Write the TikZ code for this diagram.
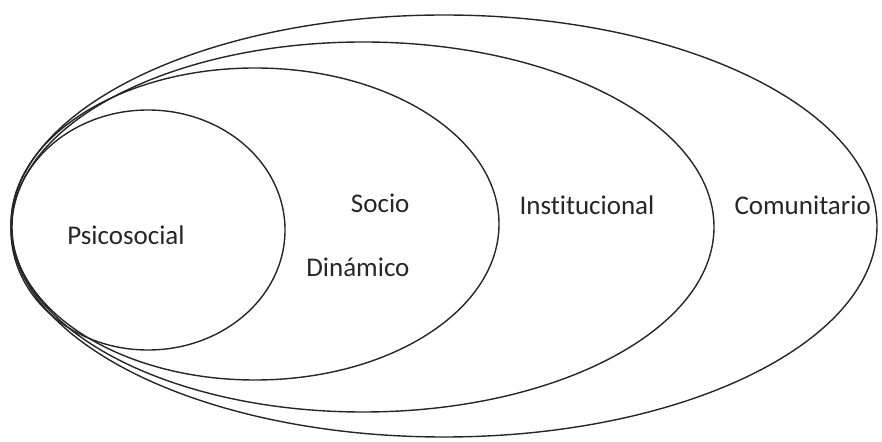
\documentclass[tikz,border=0pt]{standalone}
\usepackage{fontspec}
\setmainfont{Carlito}[Ligatures={NoCommon,NoRequired,NoContextual}]
\usepackage{tikz}

\begin{document}
\begin{tikzpicture}[x=1pt, y=1pt]
		%%%%% START %%%%%
		
		\useasboundingbox (0, 0) rectangle (882, 441);
		
		\draw[line width=1.4pt, color=black!85] (148, 211) ellipse [x radius=137, y radius=120];
		\draw[line width=1.4pt, color=black!85] (255, 217) ellipse [x radius=244, y radius=156];
		\draw[line width=1.4pt, color=black!85] (363, 214) ellipse [x radius=351, y radius=185];
		\draw[line width=1.4pt, color=black!85] (444, 215) ellipse [x radius=433, y radius=211];
		
		\node[anchor=base, font=\fontsize{27}{30}\selectfont, color=black!85] (psico) at (126, 196) {Psicosocial};
		\node[anchor=base east, font=\fontsize{27}{30}\selectfont, color=black!85] (socio) at (413, 228) {Socio};
		\node[anchor=base east, font=\fontsize{27}{30}\selectfont, color=black!85] (dinam) at (413, 164) {Dinámico};
		\node[anchor=base west, font=\fontsize{27}{30}\selectfont, color=black!85] (inst) at (516, 226) {Institucional};
		\node[anchor=base west, font=\fontsize{27}{30}\selectfont, color=black!85] (comu) at (731, 226) {Comunitario};
		
		%%%%% END %%%%%
	\end{tikzpicture}
\end{document}
